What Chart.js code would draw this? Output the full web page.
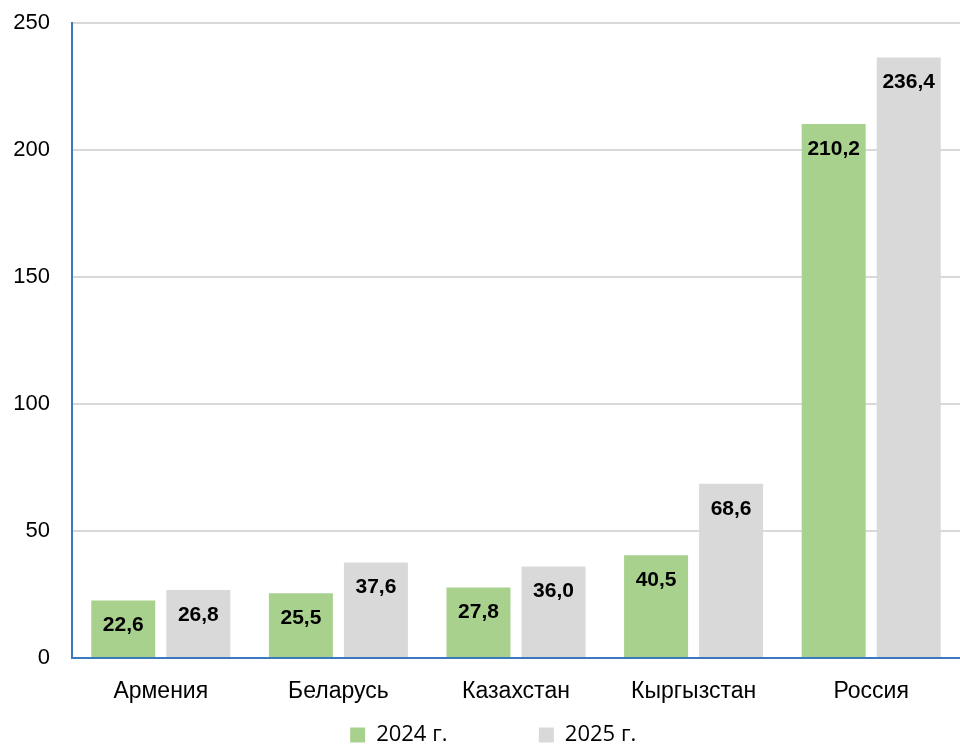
<!DOCTYPE html>
<html>
<head>
<meta charset="utf-8">
<script src="https://cdn.jsdelivr.net/npm/chart.js@4.4.1/dist/chart.umd.min.js"></script>
<style>
  html, body { margin: 0; padding: 0; background: #fff; }
  #wrap { width: 960px; height: 746px; }
</style>
</head>
<body>
<div id="wrap"><canvas id="barChart"></canvas></div>
<script>
const countries = ['Армения', 'Беларусь', 'Казахстан', 'Кыргызстан', 'Россия'];
const values2024 = [22.6, 25.5, 27.8, 40.5, 210.2];
const values2025 = [26.8, 37.6, 36.0, 68.6, 236.4];
const seriesNames = ['2024 г.', '2025 г.'];
const yTicks = [0, 50, 100, 150, 200, 250];

const axisBlue = '#3a78bf';

// value labels inside the top of each bar
const barLabels = {
    id: 'barLabels',
    afterDatasetsDraw(chart) {
        const ctx = chart.ctx;
        ctx.save();
        ctx.font = 'bold 21px "Liberation Sans", Arial, sans-serif';
        ctx.fillStyle = '#000';
        ctx.textAlign = 'center';
        ctx.textBaseline = 'middle';
        chart.data.datasets.forEach(function (ds, di) {
            const meta = chart.getDatasetMeta(di);
            meta.data.forEach(function (bar, i) {
                const txt = ds.data[i].toFixed(1).replace('.', ',');
                ctx.fillText(txt, bar.x, bar.y + 25);
            });
        });
        ctx.restore();
    }
};

new Chart(document.getElementById('barChart').getContext('2d'), {
    type: 'bar',
    data: {
        labels: countries,
        datasets: [{
            label: seriesNames[0],
            data: values2024,
            backgroundColor: '#a9d18e',
            categoryPercentage: 0.845,
            barPercentage: 0.853
        }, {
            label: seriesNames[1],
            data: values2025,
            backgroundColor: '#d9d9d9',
            categoryPercentage: 0.845,
            barPercentage: 0.853
        }]
    },
    options: {
        responsive: true,
        maintainAspectRatio: false,
        animation: false,
        layout: {
            padding: { left: 0, top: 23, right: 0, bottom: 0 }
        },
        plugins: {
            tooltip: { enabled: false },
            legend: {
                position: 'bottom',
                fullSize: false,
                maxHeight: 22,
                labels: {
                    boxWidth: 15,
                    boxHeight: 15,
                    padding: 0,
                    color: '#000',
                    font: { family: '"Open Sans", sans-serif', size: 22 },
                    generateLabels: function (chart) {
                        const items = Chart.defaults.plugins.legend.labels.generateLabels(chart);
                        // Excel spaces the two entries far apart
                        items[0].text = items[0].text + '\u00a0'.repeat(16);
                        items[1].text = items[1].text + '\u00a0'.repeat(8);
                        items.forEach(function (it) { it.lineWidth = 0; });
                        return items;
                    }
                }
            }
        },
        scales: {
            x: {
                grid: { display: false },
                border: { display: true, color: axisBlue, width: 2 },
                ticks: {
                    color: '#000',
                    padding: 12,
                    font: { family: '"Liberation Sans", Arial, sans-serif', size: 23 }
                },
                afterFit: function (scale) { scale.height = 66; }
            },
            y: {
                min: 0,
                max: 250,
                afterBuildTicks: function (scale) {
                    scale.ticks = yTicks.map(function (v) { return { value: v }; });
                },
                grid: {
                    drawTicks: true,
                    tickLength: 21,
                    tickColor: 'rgba(0,0,0,0)',
                    lineWidth: 2,
                    color: function (c) { return c.tick && c.tick.value === 0 ? 'rgba(0,0,0,0)' : '#d9d9d9'; }
                },
                border: { display: true, color: axisBlue, width: 2 },
                ticks: {
                    color: '#000',
                    padding: 1,
                    font: { family: '"Liberation Sans", Arial, sans-serif', size: 22 }
                },
                afterFit: function (scale) { scale.width = 72; }
            }
        }
    },
    plugins: [barLabels]
});
</script>
</body>
</html>
